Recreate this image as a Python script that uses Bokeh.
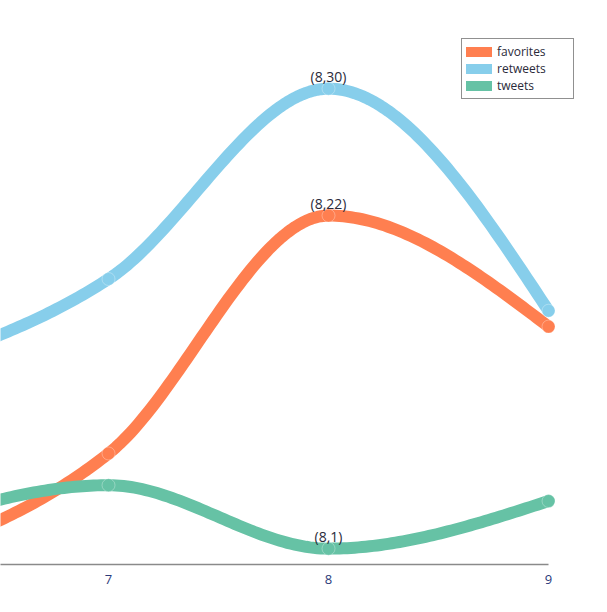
import numpy as np
from bokeh.plotting import figure
from bokeh.models import Range1d, FixedTicker, Legend, LegendItem, ColumnDataSource
from bokeh.core.properties import value
from bokeh.embed import file_html
from bokeh.resources import INLINE

# ---- data ----
x_vals = [6, 7, 8, 9]
favorites = [0, 7, 22, 15]
retweets = [12, 18, 30, 16]
tweets = [2, 5, 1, 4]
series_names = ["favorites", "retweets", "tweets"]
series_colors = ["#ff7f50", "#87ceeb", "#66c2a5"]
x_ticks = [7, 8, 9]
peak_x = [8, 8, 8]
peak_y = [30, 22, 1]
peak_labels = ["(8,30)", "(8,22)", "(8,1)"]

FONT = "Open Sans"
TEXT_COLOR = "#2a2a3a"


def monotone_x(xs, ys, n=60):
    """Smooth curve through the points, like d3.curveMonotoneX."""
    xs = np.asarray(xs, float)
    ys = np.asarray(ys, float)
    h = np.diff(xs)
    s = np.diff(ys) / h
    m = np.zeros(len(xs))
    for i in range(1, len(xs) - 1):
        p = (s[i - 1] * h[i] + s[i] * h[i - 1]) / (h[i - 1] + h[i])
        m[i] = (np.sign(s[i - 1]) + np.sign(s[i])) * min(abs(s[i - 1]), abs(s[i]), 0.5 * abs(p))
    m[0] = (3 * s[0] - m[1]) / 2
    m[-1] = (3 * s[-1] - m[-2]) / 2
    ox, oy = [], []
    for i in range(len(xs) - 1):
        t = np.linspace(0, 1, n)
        h00 = 2 * t**3 - 3 * t**2 + 1
        h10 = t**3 - 2 * t**2 + t
        h01 = -2 * t**3 + 3 * t**2
        h11 = t**3 - t**2
        yy = h00 * ys[i] + h10 * h[i] * m[i] + h01 * ys[i + 1] + h11 * h[i] * m[i + 1]
        xx = xs[i] + t * h[i]
        if i > 0:
            xx, yy = xx[1:], yy[1:]
        ox.extend(xx)
        oy.extend(yy)
    return ox, oy


p = figure(
    width=607, height=612,
    x_range=Range1d(6.509, 9.268),
    y_range=Range1d(0, 35.56),
    output_backend="svg", toolbar_location=None,
    y_axis_location=None,
    min_border_left=0, min_border_right=0, min_border_top=0, min_border_bottom=48,
)
p.outline_line_color = None
p.xgrid.visible = False
p.ygrid.visible = False
p.background_fill_color = "white"
p.border_fill_color = "white"

ax = p.xaxis[0]
ax.ticker = FixedTicker(ticks=x_ticks)
ax.bounds = (6.5, 9)
ax.axis_line_color = "#8a8a8a"
ax.axis_line_width = 1.5
ax.major_tick_line_color = None
ax.minor_tick_line_color = None
ax.major_label_standoff = 4
ax.major_label_text_font = FONT
ax.major_label_text_font_size = "13px"
ax.major_label_text_color = "#2b3a7a"

items = []
for name, ys, col in zip(series_names, [favorites, retweets, tweets], series_colors):
    cx, cy = monotone_x(x_vals, ys)
    r = p.line(cx, cy, line_color=col, line_width=12, line_cap="round", line_join="round")
    p.scatter(x_vals, ys, size=13, fill_color=col, line_color="white", line_alpha=0.3,
              line_width=1)
    items.append(LegendItem(label=name, renderers=[r]))

src = ColumnDataSource(dict(x=peak_x, y=peak_y, t=peak_labels))
p.text(x="x", y="y", text="t", source=src, text_align="center", text_baseline="bottom",
       y_offset=-3, text_font=value(FONT), text_font_size="14px", text_color=TEXT_COLOR)

legend = Legend(items=items, location=(461, 465))
legend.border_line_color = "#222222"
legend.border_line_width = 1.5
legend.background_fill_alpha = 1
legend.padding = 4
legend.margin = 0
legend.spacing = 0
legend.glyph_width = 26
legend.glyph_height = 10
legend.label_height = 12
legend.label_width = 72
legend.label_standoff = 5
legend.label_text_font = FONT
legend.label_text_font_size = "12px"
legend.label_text_line_height = 0.8
legend.label_text_color = TEXT_COLOR
p.add_layout(legend, "center")

open("out.html", "w").write(file_html(p, INLINE))
